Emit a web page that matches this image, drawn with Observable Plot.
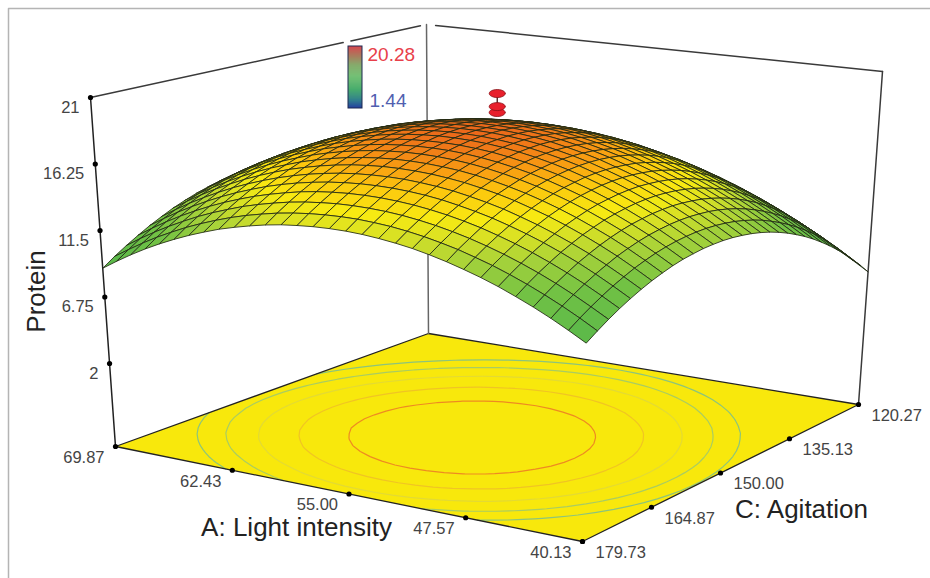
<!DOCTYPE html>
<html>
<head>
<meta charset="utf-8">
<script src="https://cdn.jsdelivr.net/npm/d3@7"></script>
<script src="https://cdn.jsdelivr.net/npm/@observablehq/plot@0.6"></script>
<style>html,body{margin:0;padding:0;background:#fff}svg{display:block}</style>
</head>
<body>
<div id="chart"></div>
<script>
// Axis tick values
const lightTicks = [69.87, 62.43, 55.00, 47.57, 40.13];
const lightLabels = ["69.87", "62.43", "55.00", "47.57", "40.13"];
const agitationTicks = [179.73, 164.87, 150.00, 135.13, 120.27];
const agitationLabels = ["179.73", "164.87", "150.00", "135.13", "120.27"];
const proteinTicks = [21, 16.25, 11.5, 6.75, 2];
const proteinLabels = ["21", "16.25", "11.5", "6.75", "2"];
const proteinFloor = -3.93;
const designProtein = [19.22, 19.65, 20.6];
const legendRange = [1.44, 20.28];
const contourLevels = [12.6, 13.65, 14.7, 15.8, 16.85];
const contourColors = ["#8cc47c", "#a9cc62", "#e3da34", "#f0c424", "#ee8a22"];

// Protein response: rows from C = 120.27 to 179.73, columns from A = 69.87 to 40.13
const proteinGrid = [
[7.72,8.32,8.88,9.39,9.85,10.27,10.64,10.96,11.25,11.48,11.68,11.83,11.93,11.98,11.99,11.95,11.87,11.74,11.57,11.35,11.08,10.78,10.43,10.02,9.58,9.09,8.55,7.97,7.34,6.66,5.94],
[8.38,8.99,9.55,10.06,10.52,10.95,11.32,11.64,11.94,12.17,12.36,12.52,12.62,12.67,12.69,12.65,12.57,12.45,12.28,12.06,11.80,11.49,11.14,10.74,10.30,9.81,9.28,8.70,8.07,7.39,6.68],
[9.01,9.61,10.18,10.70,11.16,11.59,11.96,12.29,12.58,12.82,13.01,13.17,13.27,13.33,13.34,13.31,13.24,13.11,12.95,12.73,12.47,12.16,11.82,11.41,10.98,10.49,9.96,9.38,8.76,8.09,7.37],
[9.58,10.19,10.76,11.28,11.75,12.17,12.55,12.88,13.18,13.41,13.61,13.77,13.88,13.93,13.95,13.92,13.85,13.73,13.56,13.35,13.09,12.79,12.44,12.04,11.61,11.13,10.59,10.02,9.40,8.73,8.02],
[10.12,10.73,11.30,11.82,12.29,12.72,13.10,13.43,13.73,13.97,14.17,14.33,14.44,14.50,14.52,14.49,14.42,14.30,14.14,13.93,13.67,13.37,13.03,12.63,12.20,11.72,11.19,10.62,10.00,9.33,8.62],
[10.62,11.23,11.80,12.32,12.80,13.23,13.61,13.94,14.25,14.49,14.69,14.85,14.96,15.03,15.05,15.02,14.95,14.83,14.68,14.47,14.21,13.91,13.57,13.18,12.75,12.27,11.74,11.18,10.56,9.89,9.18],
[11.07,11.68,12.25,12.78,13.25,13.69,14.07,14.41,14.71,14.95,15.16,15.32,15.44,15.50,15.53,15.50,15.43,15.32,15.16,14.96,14.70,14.41,14.07,13.67,13.25,12.77,12.25,11.68,11.07,10.40,9.69],
[11.47,12.09,12.66,13.19,13.67,14.10,14.49,14.83,15.13,15.38,15.59,15.75,15.87,15.94,15.96,15.94,15.88,15.76,15.61,15.41,15.15,14.86,14.53,14.13,13.71,13.24,12.71,12.15,11.54,10.87,10.17],
[11.84,12.46,13.04,13.56,14.04,14.48,14.87,15.21,15.52,15.77,15.98,16.14,16.26,16.33,16.36,16.34,16.28,16.17,16.02,15.82,15.56,15.27,14.94,14.55,14.13,13.66,13.14,12.58,11.96,11.30,10.60],
[12.16,12.78,13.36,13.89,14.37,14.81,15.20,15.54,15.85,16.10,16.32,16.49,16.61,16.68,16.71,16.69,16.63,16.52,16.37,16.17,15.92,15.64,15.31,14.92,14.50,14.03,13.51,12.95,12.34,11.68,10.98],
[12.43,13.06,13.64,14.17,14.65,15.10,15.49,15.83,16.15,16.40,16.61,16.79,16.91,16.98,17.02,17.00,16.94,16.84,16.69,16.49,16.25,15.96,15.63,15.25,14.83,14.36,13.85,13.29,12.68,12.02,11.33],
[12.67,13.29,13.88,14.42,14.90,15.35,15.74,16.09,16.40,16.66,16.87,17.05,17.17,17.25,17.28,17.27,17.22,17.11,16.97,16.77,16.53,16.24,15.92,15.53,15.12,14.65,14.14,13.58,12.98,12.33,11.63],
[12.85,13.48,14.07,14.61,15.10,15.54,15.94,16.29,16.61,16.86,17.08,17.26,17.39,17.46,17.50,17.49,17.44,17.34,17.19,17.00,16.76,16.48,16.15,15.77,15.36,14.90,14.38,13.83,13.23,12.58,11.89],
[13.00,13.63,14.22,14.76,15.25,15.70,16.10,16.45,16.77,17.03,17.25,17.43,17.56,17.64,17.68,17.67,17.62,17.52,17.38,17.19,16.95,16.67,16.35,15.97,15.56,15.10,14.59,14.04,13.44,12.79,12.10],
[13.11,13.74,14.33,14.87,15.37,15.82,16.22,16.57,16.90,17.16,17.38,17.56,17.69,17.78,17.82,17.81,17.76,17.66,17.53,17.34,17.10,16.82,16.50,16.13,15.72,15.26,14.75,14.21,13.61,12.96,12.27],
[13.17,13.80,14.39,14.94,15.43,15.89,16.29,16.65,16.97,17.23,17.46,17.64,17.78,17.86,17.91,17.90,17.85,17.76,17.62,17.44,17.20,16.93,16.61,16.23,15.83,15.37,14.87,14.32,13.73,13.08,12.39],
[13.18,13.82,14.42,14.96,15.46,15.92,16.32,16.68,17.00,17.27,17.50,17.68,17.82,17.91,17.95,17.95,17.91,17.81,17.68,17.50,17.26,16.99,16.68,16.30,15.90,15.44,14.94,14.40,13.80,13.16,12.48],
[13.16,13.80,14.40,14.94,15.44,15.90,16.31,16.67,17.00,17.27,17.50,17.68,17.82,17.91,17.96,17.96,17.92,17.83,17.70,17.52,17.28,17.01,16.70,16.33,15.93,15.48,14.98,14.44,13.84,13.20,12.52],
[13.09,13.73,14.33,14.88,15.38,15.84,16.25,16.61,16.94,17.21,17.45,17.64,17.78,17.87,17.92,17.92,17.88,17.79,17.66,17.48,17.25,16.99,16.68,16.31,15.91,15.46,14.96,14.42,13.83,13.19,12.51],
[12.97,13.62,14.22,14.77,15.27,15.74,16.15,16.51,16.85,17.12,17.35,17.55,17.69,17.78,17.84,17.84,17.80,17.72,17.59,17.41,17.19,16.92,16.61,16.25,15.85,15.40,14.91,14.37,13.78,13.14,12.47],
[12.81,13.45,14.06,14.62,15.12,15.59,16.00,16.37,16.70,16.98,17.21,17.41,17.55,17.65,17.70,17.71,17.68,17.59,17.47,17.29,17.07,16.80,16.50,16.13,15.74,15.29,14.80,14.26,13.68,13.05,12.37],
[12.61,13.26,13.87,14.43,14.94,15.40,15.82,16.19,16.53,16.80,17.04,17.24,17.39,17.48,17.54,17.55,17.52,17.44,17.31,17.14,16.92,16.66,16.35,15.99,15.60,15.16,14.66,14.13,13.55,12.92,12.25],
[12.37,13.02,13.63,14.19,14.70,15.17,15.59,15.96,16.30,16.58,16.82,17.02,17.17,17.27,17.33,17.34,17.31,17.23,17.11,16.94,16.72,16.46,16.16,15.80,15.41,14.97,14.48,13.95,13.37,12.74,12.07],
[12.08,12.73,13.34,13.90,14.42,14.89,15.31,15.68,16.03,16.31,16.55,16.75,16.90,17.01,17.07,17.08,17.05,16.97,16.86,16.69,16.47,16.21,15.91,15.56,15.17,14.73,14.24,13.72,13.14,12.51,11.84],
[11.76,12.41,13.02,13.59,14.10,14.58,15.00,15.38,15.72,16.00,16.25,16.45,16.61,16.71,16.78,16.79,16.76,16.69,16.57,16.41,16.19,15.94,15.64,15.28,14.90,14.46,13.98,13.45,12.88,12.25,11.58],
[11.37,12.03,12.65,13.21,13.73,14.21,14.63,15.01,15.35,15.64,15.89,16.09,16.25,16.36,16.42,16.44,16.42,16.34,16.23,16.07,15.85,15.60,15.31,14.95,14.57,14.13,13.65,13.13,12.55,11.93,11.27],
[10.96,11.62,12.24,12.80,13.32,13.80,14.23,14.61,14.96,15.25,15.50,15.70,15.86,15.97,16.04,16.06,16.04,15.97,15.86,15.70,15.48,15.23,14.94,14.59,14.21,13.78,13.30,12.78,12.20,11.58,10.92],
[10.49,11.16,11.78,12.35,12.87,13.35,13.78,14.16,14.51,14.80,15.05,15.27,15.43,15.54,15.61,15.63,15.61,15.54,15.43,15.27,15.07,14.82,14.53,14.18,13.80,13.37,12.89,12.37,11.80,11.18,10.53],
[9.99,10.66,11.28,11.85,12.37,12.86,13.29,13.67,14.03,14.32,14.57,14.79,14.95,15.06,15.14,15.16,15.14,15.08,14.97,14.81,14.61,14.36,14.07,13.73,13.35,12.92,12.45,11.93,11.36,10.74,10.09],
[9.45,10.11,10.74,11.32,11.84,12.33,12.76,13.15,13.50,13.80,14.05,14.27,14.43,14.55,14.62,14.65,14.64,14.57,14.47,14.31,14.11,13.86,13.58,13.23,12.86,12.43,11.96,11.44,10.88,10.27,9.61],
[8.85,9.52,10.15,10.73,11.26,11.74,12.18,12.57,12.93,13.22,13.48,13.70,13.87,13.98,14.06,14.09,14.08,14.02,13.91,13.76,13.57,13.32,13.03,12.69,12.32,11.90,11.42,10.91,10.35,9.74,9.09]
];

// Colour ramps
const surfaceStops = [1.44, 6, 9.5, 11.5, 13, 14, 14.9, 16.0, 16.8, 17.9, 20.28];
const surfaceColors = ["#1f3fa8", "#3c9f48", "#5cb94a", "#73c244", "#a6d23a", "#d6e026", "#f8ea12", "#fcc80e", "#f99e12", "#ec6a1a", "#e02020"];
const legendStops = [1.44, 3.5, 7, 11, 14.5, 17, 20.28];
const legendColors = ["#23409f", "#1d6f86", "#1f9a4c", "#49ad4a", "#5f8f3c", "#8e5a30", "#d3202c"];

// View: where the eight corners of the plot box sit on the picture
const n = proteinGrid.length - 1;
const floorView = {left: [115, 446], front: [582, 541], right: [858, 404], back: [428, 333]};
const topView = {left: [90, 97], front: [589, 158], right: [882, 71], back: [426, 24]};
const uOf = d3.scaleLinear([69.87, 40.13], [0, 1]);
const vOf = d3.scaleLinear([179.73, 120.27], [0, 1]);
const wOf = d3.scaleLinear([proteinFloor, 21], [0, 1]);
function bilinear(q, u, v, i) {
  return q.left[i] * (1 - u) * (1 - v) + q.front[i] * u * (1 - v) + q.right[i] * u * v + q.back[i] * (1 - u) * v;
}
function unitPoint(u, v, w) {
  return {
    x: bilinear(floorView, u, v, 0) * (1 - w) + bilinear(topView, u, v, 0) * w,
    y: bilinear(floorView, u, v, 1) * (1 - w) + bilinear(topView, u, v, 1) * w
  };
}
const point = (a, c, p) => unitPoint(uOf(a), vOf(c), wOf(p));

// The surface itself is drawn in true perspective: nearer cells come out larger
const camX = [409.97, 377.05, -30.68, 115];
const camY = [41.99, -63.4, -355.12, 446];
const camW = [-0.098, 0.149, -0.0631, 1];
function perspective(u, v, p) {
  const w = (p + 4.5) / 25.33;
  const h = camW[0] * u + camW[1] * v + camW[2] * w + camW[3];
  return {
    x: (camX[0] * u + camX[1] * v + camX[2] * w + camX[3]) / h,
    y: (camY[0] * u + camY[1] * v + camY[2] * w + camY[3]) / h
  };
}

// Surface cells, far to near
const cells = [];
for (let r = 0; r < n; r++) {
  for (let k = 0; k < n; k++) {
    const corners = [[r, k], [r, k + 1], [r + 1, k + 1], [r + 1, k], [r, k]];
    const mean = (proteinGrid[r][k] + proteinGrid[r][k + 1] + proteinGrid[r + 1][k + 1] + proteinGrid[r + 1][k]) / 4;
    for (const [rr, kk] of corners) {
      const p = perspective(kk / n, 1 - rr / n, proteinGrid[rr][kk]);
      cells.push({...p, cell: r * n + k, protein: mean});
    }
  }
}

// Floor contours
const contourMaker = d3.contours().size([n + 1, n + 1]).thresholds(contourLevels);
const contourMarks = contourMaker(proteinGrid.flat()).map((c, idx) => {
  const rows = [];
  for (const poly of c.coordinates) for (const ring of poly) {
    for (const [gx, gy] of ring) {
      const u = (gx - 0.5) / n, v = 1 - (gy - 0.5) / n;
      if (u < -1e-9 || u > 1 + 1e-9 || v < -1e-9 || v > 1 + 1e-9) rows.push({x: NaN, y: NaN});
      else rows.push(unitPoint(u, v, 0));
    }
    rows.push({x: NaN, y: NaN});
  }
  return Plot.line(rows, {x: "x", y: "y", stroke: contourColors[idx], strokeWidth: 1.2});
});

const floorRing = [[0, 0], [1, 0], [1, 1], [0, 1], [0, 0]].map(([u, v]) => unitPoint(u, v, 0));
const edgeStyle = {x: "x", y: "y", stroke: "#3a3a3a", strokeWidth: 1.5};
const uLine = (a, b, v, w) => [unitPoint(a, v, w), unitPoint(b, v, w)];
const vLine = (a, b, u, w) => [unitPoint(u, a, w), unitPoint(u, b, w)];
const upright = (u, v) => [unitPoint(u, v, 0), unitPoint(u, v, 1)];

// Tick points
const zPts = proteinTicks.map((p, i) => ({...point(69.87, 179.73, p), label: proteinLabels[i]}));
const aPts = lightTicks.map((a, i) => ({...point(a, 179.73, proteinFloor), label: lightLabels[i]}));
const cPts = agitationTicks.map((c, i) => ({...point(40.13, c, proteinFloor), label: agitationLabels[i]}));
const tickFont = {fontFamily: "Liberation Sans, Arial, sans-serif", fontSize: 16.5, fill: "#444", lineAnchor: "middle"};
const titleFont = {fontFamily: "Liberation Sans, Arial, sans-serif", fontSize: 26, fill: "#222", lineAnchor: "middle"};

// Design-point discs
const discs = designProtein.map((p, i) => {
  const c = point(55, 150, p);
  return d3.range(0, 25).map(t => ({
    x: c.x + 8 * Math.cos(t / 24 * 2 * Math.PI),
    y: c.y + 4 * Math.sin(t / 24 * 2 * Math.PI),
    disc: i
  }));
}).flat();

// Colour key
const keyY = d3.scaleLinear(legendRange, [108, 46]);
const keyFill = d3.scaleLinear(legendStops, legendColors);
const keyBands = d3.range(1.44, 20.28, 0.3).map(p => ({y1: keyY(p), y2: keyY(Math.min(p + 0.3, 20.28)), fill: keyFill(p)}));

const chart = Plot.plot({
  width: 930, height: 578, margin: 0,
  style: {background: "#fff", fontFamily: "Liberation Sans, Arial, sans-serif"},
  x: {domain: [0, 930], range: [0, 930], axis: null},
  y: {domain: [0, 578], range: [0, 578], axis: null},
  color: {type: "linear", domain: surfaceStops, range: surfaceColors},
  marks: [
    Plot.line([{x: 8, y: 578}, {x: 8, y: 8}, {x: 930, y: 8}], {x: "x", y: "y", stroke: "#b4b4b4", strokeWidth: 1.5}),
    Plot.line(floorRing, {x: "x", y: "y", fill: "#f8e80c"}),
    ...contourMarks,
    Plot.line(floorRing, {x: "x", y: "y", stroke: "#222", strokeWidth: 1.3}),
    Plot.line(upright(0, 0), {...edgeStyle, stroke: "#222"}),
    Plot.line(upright(0, 1), {...edgeStyle, stroke: "#666"}),
    Plot.line(upright(1, 1), edgeStyle),
    Plot.line(vLine(0, 0.752, 0, 1), edgeStyle),
    Plot.line(vLine(0.775, 0.982, 0, 1), edgeStyle),
    Plot.line(uLine(0.02, 1, 1, 1), edgeStyle),
    Plot.line([point(55, 150, 19.1), point(55, 150, 20.6)], {x: "x", y: "y", stroke: "#300", strokeWidth: 1.2}),
    Plot.line(cells, {x: "x", y: "y", z: "cell", fill: "protein", stroke: "#222a14", strokeWidth: 0.85}),
    Plot.line(discs, {x: "x", y: "y", z: "disc", fill: "#e8202c", stroke: "#8a1218", strokeWidth: 0.8}),
    Plot.dot([...zPts, ...aPts, ...cPts], {x: "x", y: "y", r: 2.6, fill: "#000"}),
    Plot.text(zPts, {...tickFont, x: "x", y: "y", text: "label", textAnchor: "end", dx: -11, dy: 10}),
    Plot.text(aPts, {...tickFont, x: "x", y: "y", text: "label", textAnchor: "end", dx: -11, dy: 11}),
    Plot.text(cPts, {...tickFont, x: "x", y: "y", text: "label", textAnchor: "start", dx: 13, dy: 11}),
    Plot.text(["Protein"], {...titleFont, x: 36, y: 291, rotate: -90}),
    Plot.text(["A: Light intensity"], {...titleFont, x: 296, y: 527}),
    Plot.text(["C: Agitation"], {...titleFont, x: 801, y: 509}),
    Plot.rect(keyBands, {x1: 348, x2: 362, y1: "y1", y2: "y2", fill: "fill"}),
    Plot.rect([{y1: keyY(1.44), y2: keyY(20.28)}], {x1: 348, x2: 362, y1: "y1", y2: "y2", stroke: "#1c2850", strokeWidth: 1, fill: "none"}),
    Plot.text(["20.28"], {x: 367, y: 54, text: d => d, textAnchor: "start", lineAnchor: "middle", fontFamily: "Liberation Sans, Arial, sans-serif", fontSize: 19, fill: "#e8404a"}),
    Plot.text(["1.44"], {x: 369, y: 100, text: d => d, textAnchor: "start", lineAnchor: "middle", fontFamily: "Liberation Sans, Arial, sans-serif", fontSize: 19, fill: "#5060b0"})
  ]
});
document.getElementById("chart").appendChild(chart);
</script>
</body>
</html>
